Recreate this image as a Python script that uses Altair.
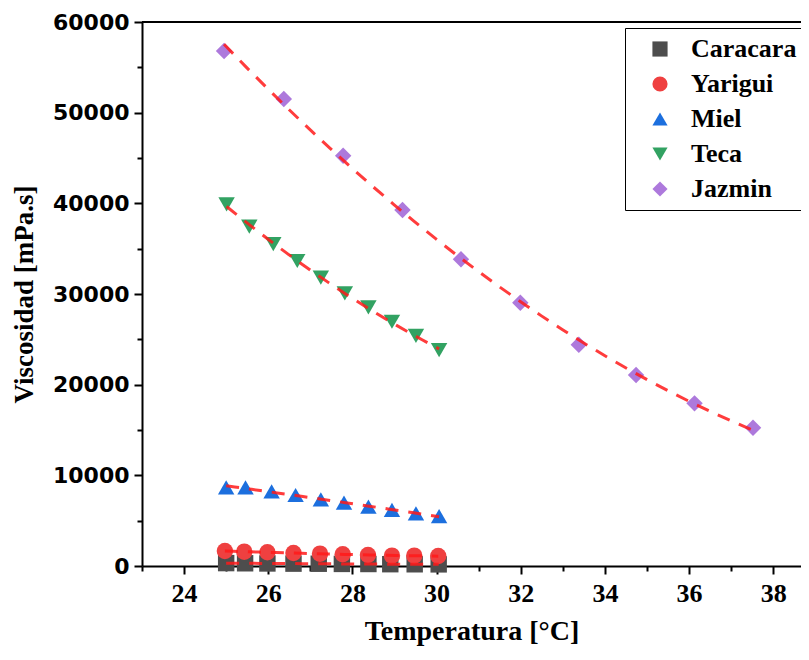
import altair as alt
import pandas as pd

series_names = ["Caracara", "Yarigui", "Miel", "Teca", "Jazmin"]
series_colors = ["#4d4d4d", "#ef4040", "#1c6fde", "#32a262", "#ad79dc"]
series_shapes = ["square", "circle", "triangle-up", "triangle-down", "diamond"]

caracara_t = [25.0, 25.45, 25.98, 26.6, 27.2, 27.75, 28.38, 28.9, 29.48, 30.05]
caracara_v = [320, 300, 280, 260, 250, 230, 220, 200, 190, 180]
yarigui_t = [24.97, 25.43, 25.98, 26.6, 27.23, 27.77, 28.37, 28.94, 29.47, 30.04]
yarigui_v = [1650, 1580, 1510, 1430, 1360, 1290, 1210, 1140, 1140, 1100]
miel_t = [25.0, 25.46, 26.08, 26.65, 27.25, 27.8, 28.38, 28.94, 29.51, 30.06]
miel_v = [8680, 8680, 8240, 7830, 7360, 6980, 6540, 6180, 5810, 5510]
teca_t = [25.01, 25.55, 26.12, 26.69, 27.25, 27.82, 28.38, 28.94, 29.51, 30.06]
teca_v = [39890, 37420, 35510, 33640, 31800, 30080, 28530, 26940, 25370, 23820]
jazmin_t = [24.95, 26.37, 27.78, 29.19, 30.58, 31.99, 33.38, 34.74, 36.13, 37.52]
jazmin_v = [56800, 51500, 45250, 39260, 33830, 29040, 24410, 21070, 17940, 15250]

x_ticks = list(range(23, 39))
y_ticks = list(range(0, 60001, 5000))

rows = []
for name, ts, vs in [
    ("Caracara", caracara_t, caracara_v),
    ("Yarigui", yarigui_t, yarigui_v),
    ("Miel", miel_t, miel_v),
    ("Teca", teca_t, teca_v),
    ("Jazmin", jazmin_t, jazmin_v),
]:
    for t, v in zip(ts, vs):
        rows.append({"series": name, "T": t, "V": v})
df = pd.DataFrame(rows)

W, H = 659, 544

x_scale = alt.Scale(domain=[23, 38.66], nice=False, zero=False)
y_scale = alt.Scale(domain=[0, 60000], nice=False)

x_axis = alt.Axis(
    title="Temperatura [°C]",
    values=x_ticks,
    labelExpr="datum.value % 2 === 0 ? datum.label : ''",
    tickSize={"condition": {"test": "datum.value % 2 === 0", "value": 8}, "value": 5},
    labelFont="Liberation Serif", labelFontSize=26, labelFontWeight="bold",
    titleFont="Liberation Serif", titleFontSize=28, titleFontWeight="bold",
    labelPadding=6, titlePadding=11, grid=False,
    domainColor="black", domainWidth=2, tickColor="black", tickWidth=2,
    labelColor="black", titleColor="black", labelFlush=False,
)
y_axis = alt.Axis(
    title="Viscosidad [mPa.s]",
    values=y_ticks, format="d",
    labelExpr="datum.value % 10000 === 0 ? datum.label : ''",
    tickSize={"condition": {"test": "datum.value % 10000 === 0", "value": 8}, "value": 5},
    labelFont="DejaVu Sans", labelFontSize=22, labelFontWeight="bold",
    titleFont="Liberation Serif", titleFontSize=27, titleFontWeight="bold",
    labelPadding=5, titlePadding=14, grid=False,
    domainColor="black", domainWidth=2, tickColor="black", tickWidth=2,
    labelColor="black", titleColor="black", labelFlush=False,
)

legend = alt.Legend(
    title=None, orient="none", legendX=483, legendY=6,
    labelFont="Liberation Serif", labelFontSize=26, labelFontWeight="bold",
    labelColor="black", symbolSize=230, symbolStrokeWidth=0,
    strokeColor="black", fillColor="white", padding=8, rowPadding=9,
    labelOffset=18, symbolOffset=14,
    labelExpr="datum.label === 'Jazmin' ? '\u2002Jazmin' : datum.label",
)

base = alt.Chart(df)

points = base.mark_point(filled=True, size=270, opacity=1, strokeWidth=0).encode(
    x=alt.X("T:Q", scale=x_scale, axis=x_axis),
    y=alt.Y("V:Q", scale=y_scale, axis=y_axis),
    color=alt.Color("series:N", scale=alt.Scale(domain=series_names, range=series_colors), legend=legend),
    shape=alt.Shape("series:N", scale=alt.Scale(domain=series_names, range=series_shapes), legend=legend),
)

fits = base.transform_regression(
    "T", "V", method="poly", order=2, groupby=["series"]
).mark_line(color="#ff1a1a", strokeDash=[13, 10], strokeWidth=3, opacity=0.85).encode(
    x=alt.X("T:Q", scale=x_scale),
    y=alt.Y("V:Q", scale=y_scale),
    detail="series:N",
)

top_border = alt.Chart(alt.Data(values=[{"a": 1}])).mark_rule(color="black", strokeWidth=2).encode(
    x=alt.value(0), x2=alt.value(W), y=alt.value(0)
)

chart = alt.layer(points, fits, top_border).properties(
    width=W, height=H,
    autosize=alt.AutoSizeParams(type="none"),
    padding={"left": 134, "top": 14, "right": 0, "bottom": 80},
).configure_view(stroke=None)

chart.save("out.html", embed_options={"renderer": "svg", "actions": False})
